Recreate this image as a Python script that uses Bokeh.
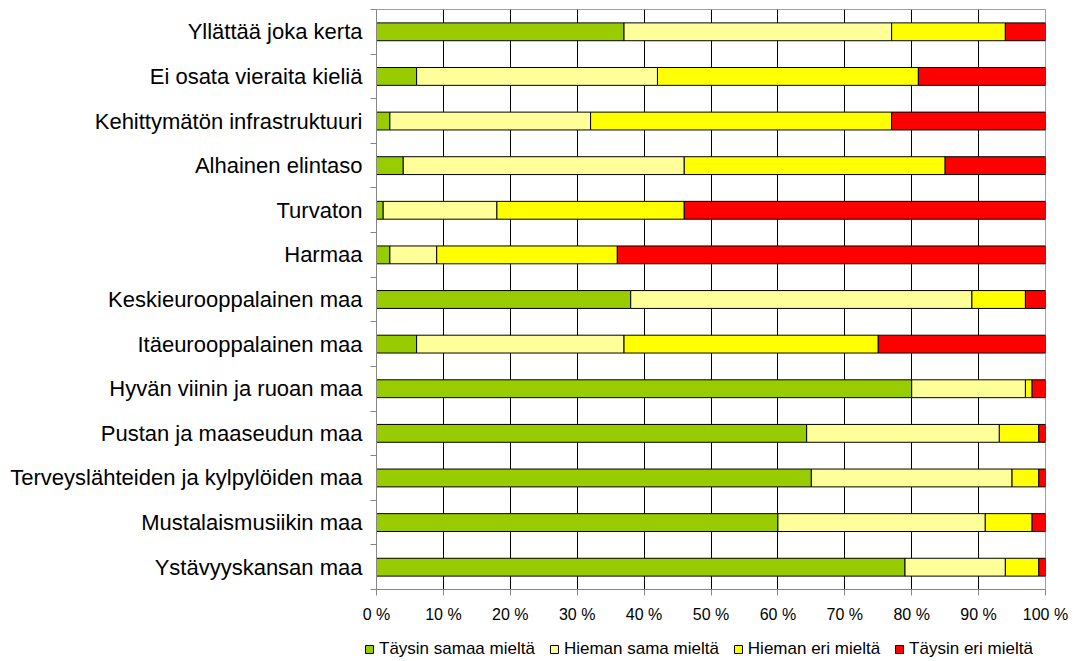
from bokeh.plotting import figure
from bokeh.models import ColumnDataSource, FixedTicker, Legend, LegendItem, Range1d
from bokeh.embed import file_html
from bokeh.resources import INLINE

# Categories listed bottom -> top
categories = [
    "Ystävyyskansan maa",
    "Mustalaismusiikin maa",
    "Terveyslähteiden ja kylpylöiden maa",
    "Pustan ja maaseudun maa",
    "Hyvän viinin ja ruoan maa",
    "Itäeurooppalainen maa",
    "Keskieurooppalainen maa",
    "Harmaa",
    "Turvaton",
    "Alhainen elintaso",
    "Kehittymätön infrastruktuuri",
    "Ei osata vieraita kieliä",
    "Yllättää joka kerta",
]
taysin_samaa = [79, 60, 65, 64.3, 80, 6, 38, 2, 1, 4, 2, 6, 37]
hieman_sama = [15, 31, 30, 28.8, 17, 31, 51, 7, 17, 42, 30, 36, 40]
hieman_eri = [5, 7, 4, 5.9, 1, 38, 8, 27, 28, 39, 45, 39, 17]
taysin_eri = [1, 2, 1, 1.0, 2, 25, 3, 64, 54, 15, 23, 19, 6]

series_names = ["Täysin samaa mieltä", "Hieman sama mieltä", "Hieman eri mieltä", "Täysin eri mieltä"]
series_colors = ["#99CC00", "#FFFF99", "#FFFF00", "#FF0000"]
x_ticks = [0, 10, 20, 30, 40, 50, 60, 70, 80, 90, 100]
x_tick_labels = ["0 %", "10 %", "20 %", "30 %", "40 %", "50 %", "60 %", "70 %", "80 %", "90 %", "100 %"]

FONT = "Liberation Sans"

ypos = [i + 0.5 for i in range(len(categories))]
keys = ["s0", "s1", "s2", "s3"]
source = ColumnDataSource(dict(y=ypos, s0=taysin_samaa, s1=hieman_sama, s2=hieman_eri, s3=taysin_eri))

p = figure(width=1072, height=630, output_backend="svg", toolbar_location=None,
           x_range=Range1d(0, 100), y_range=Range1d(0, len(categories)),
           min_border_left=376, min_border_top=9, min_border_right=27, min_border_bottom=41)

p.hbar_stack(keys, y="y", height=0.4, color=series_colors, line_color="black",
             line_width=1, source=source)

# x axis
p.xaxis.ticker = FixedTicker(ticks=x_ticks)
p.xaxis.major_label_overrides = {t: l for t, l in zip(x_ticks, x_tick_labels)}
p.xaxis.axis_line_color = "#868686"
p.xaxis.major_tick_line_color = "#868686"
p.xaxis.major_tick_out = 6
p.xaxis.major_tick_in = 0
p.xaxis.minor_tick_line_color = None
p.xaxis.major_label_text_font = FONT
p.xaxis.major_label_text_font_size = "16px"
p.xaxis.major_label_text_color = "black"
p.xaxis.major_label_standoff = 10

# y axis: labels at centers, ticks at boundaries (minor ticks)
p.yaxis.ticker = FixedTicker(ticks=ypos, minor_ticks=list(range(len(categories) + 1)))
p.yaxis.major_label_overrides = {y: c for y, c in zip(ypos, categories)}
p.yaxis.axis_line_color = "#868686"
p.yaxis.major_tick_out = 0
p.yaxis.major_tick_in = 0
p.yaxis.minor_tick_line_color = "#868686"
p.yaxis.minor_tick_out = 6
p.yaxis.minor_tick_in = 0
p.yaxis.major_label_text_font = FONT
p.yaxis.major_label_text_font_size = "22px"
p.yaxis.major_label_text_color = "black"
p.yaxis.major_label_standoff = 8

p.xgrid.ticker = FixedTicker(ticks=x_ticks)
p.xgrid.grid_line_color = "black"
p.xgrid.grid_line_width = 1
p.ygrid.grid_line_color = None
p.outline_line_color = "#a0a0a0"

# Legend strip underneath (bars of this strip lie outside its visible range)
p2 = figure(width=1072, height=30, output_backend="svg", toolbar_location=None,
            x_range=Range1d(0, 100), y_range=Range1d(100, 101),
            x_axis_location=None, y_axis_location=None, min_border=0)
p2.outline_line_color = None
p2.xgrid.grid_line_color = None
p2.ygrid.grid_line_color = None
legend_renderers = p2.hbar_stack(keys, y="y", height=0.4, color=series_colors, line_color="black",
                                 line_width=1, source=source)

legend = Legend(items=[LegendItem(label=n, renderers=[r]) for n, r in zip(series_names, legend_renderers)],
                orientation="horizontal", location=(364, 1),
                glyph_width=10, glyph_height=10, label_standoff=5, spacing=14, padding=0, margin=0,
                label_text_font=FONT, label_text_font_size="17px", label_text_color="black",
                border_line_color=None, background_fill_alpha=0, label_height=16)
p2.add_layout(legend, "center")

open("out.html", "w").write(file_html([p, p2], INLINE))
